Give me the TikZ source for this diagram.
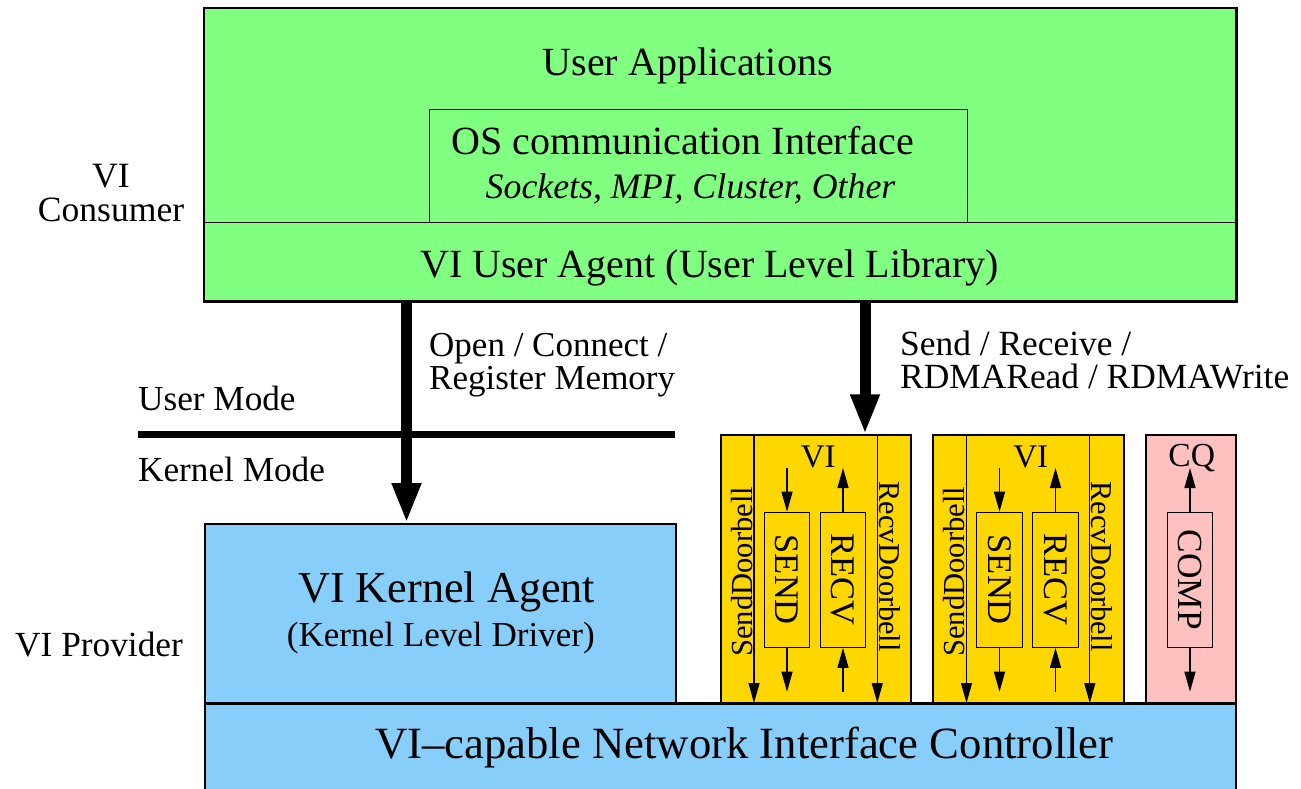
\documentclass[tikz,border=0pt]{standalone}
\usepackage{fontspec}
\setmainfont{Liberation Serif}
\usetikzlibrary{arrows.meta}

\definecolor{appgreen}{RGB}{128,255,128}
\definecolor{nicblue}{RGB}{135,206,250}
\definecolor{vigold}{RGB}{255,215,0}
\definecolor{cqpink}{RGB}{255,192,192}
\newcommand\fsz[1]{\fontsize{#1}{#1}\selectfont}
\newcommand\fszl[2]{\fontsize{#1}{#2}\selectfont}

\begin{document}
\begin{tikzpicture}[x=1pt,y=-1pt,
  lbl/.style={inner sep=0pt, anchor=base},
  lblw/.style={inner sep=0pt, anchor=base west},
  layer/.style={draw, line width=2pt, anchor=north west, inner sep=0pt},
  qbox/.style={draw, line width=1.2pt, minimum width=45.5pt, minimum height=135pt, inner sep=0pt, font=\fsz{34.5}},
  bigflow/.style={line width=11pt, -{Triangle[length=40pt,width=27pt]}},
  smallflow/.style={line width=1.2pt, -{Triangle[length=20pt,width=11pt]}},
]
\useasboundingbox (0,0) rectangle (1301,789);

% user space layers
\node[layer, line width=1.3pt, fill=appgreen, minimum width=1031pt, minimum height=214pt] (apps) at (204,8) {};
\node[layer, line width=1.3pt, fill=appgreen, minimum width=1031pt, minimum height=78pt] (agent) at (204,222) {};
\draw[line width=2.6pt] (apps.north west) rectangle (agent.south east);
\node[layer, line width=1.2pt, fill=appgreen, minimum width=538.2pt, minimum height=113pt] (osif) at (428.5,109) {};

\node[lbl, font=\fsz{40}] at (687.6,76) {User Applications};
\node[lblw, font=\fsz{40}] at (451.5,154.5) {OS communication Interface};
\node[lblw, font=\fsz{35.8}\itshape] at (485.5,198.3) {Sockets, MPI, Cluster, Other};
\node[lblw, font=\fsz{40}] at (420,277) {VI User Agent (User Level Library)};

% kernel side and the adapter
\node[layer, fill=nicblue, minimum width=471pt, minimum height=180pt] (kernel) at (204,523) {};
\node[lbl, font=\fsz{44.2}] at (446.6,602.7) {VI Kernel Agent};
\node[lbl, font=\fsz{35.1}] at (440.8,646) {(Kernel Level Driver)};

% two virtual interfaces and a completion queue
\node[layer, fill=vigold, minimum width=190.3pt, minimum height=268.7pt] (vi1) at (719.7,434.3) {};
\node[layer, fill=vigold, minimum width=191pt, minimum height=268.7pt] (vi2) at (932.3,434.3) {};
\node[layer, fill=cqpink, minimum width=90pt, minimum height=268.7pt] (cq) at (1145,434.3) {};

\node[layer, fill=nicblue, minimum width=1031pt, minimum height=100pt] (nic) at (204,703) {};
\node[lbl, font=\fsz{44.7}] at (744.3,758.3) {VI--capable Network Interface Controller};

% side labels (multi-line nodes sit on their last baseline)
\node[lbl, font={\fszl{35.6}{34.7}}, align=center] at (111,221.7) {VI\\Consumer};
\node[lblw, font=\fsz{35.3}] at (15,656) {VI Provider};
\node[lblw, font=\fsz{35.2}] at (138,410) {User Mode};
\node[lblw, font=\fsz{35.2}] at (138,481.7) {Kernel Mode};
\draw[line width=7pt] (138,434) -- (674.6,434);

% requests from the user agent
\coordinate (ocx) at (406.5,0);
\coordinate (srx) at (865,0);
\draw[bigflow] (ocx |- agent.south) -- (ocx |- kernel.north);
\draw[bigflow] (srx |- agent.south) -- (srx |- vi1.north);
\node[lblw, font={\fszl{35}{33}}, align=left] at (429,389) {Open / Connect /\\Register Memory};
\node[lblw, font={\fszl{35.4}{33.3}}, align=left] at (900,388.3) {Send / Receive /\\RDMARead / RDMAWrite};

% work queues inside each VI
\foreach \v/\dx in {1/0, 2/212.5} {
  \node[lbl, font=\fsz{33}] at (818.3+\dx,467) {VI};
  \node[qbox, fill=vigold] (send\v) at (787+\dx,579.8) {\rotatebox{-90}{SEND}};
  \node[qbox, fill=vigold] (recv\v) at (843+\dx,579.8) {\rotatebox{-90}{RECV}};
  \coordinate (sdx\v) at (754+\dx,0);
  \coordinate (rdx\v) at (877.3+\dx,0);
  \draw[smallflow] (sdx\v |- vi\v.north) -- (sdx\v |- nic.north);
  \draw[smallflow] (rdx\v |- vi\v.north) -- (rdx\v |- nic.north);
  \node[lbl, rotate=90, font=\fsz{30.6}] at (752+\dx,571.7) {SendDoorbell};
  \node[lbl, rotate=-90, font=\fsz{30.3}] at (879+\dx,566.7) {RecvDoorbell};
  \coordinate (sin\v) at (787+\dx,468);
  \coordinate (sout\v) at (787+\dx,691.7);
  \coordinate (rout\v) at (843+\dx,468);
  \coordinate (rin\v) at (843+\dx,691.7);
  \draw[smallflow] (sin\v) -- (send\v.north);
  \draw[smallflow] (send\v.south) -- (sout\v);
  \draw[smallflow] (recv\v.north) -- (rout\v);
  \draw[smallflow] (rin\v) -- (recv\v.south);
}

\node[lbl, font=\fsz{33.6}] at (1191.7,466.7) {CQ};
\node[qbox, fill=cqpink, font=\fsz{35.3}] (comp) at (1190,579.8) {\rotatebox{-90}{COMP}};
\coordinate (cqtop) at (1190,468);
\coordinate (cqbot) at (1190,691.7);
\draw[smallflow] (comp.north) -- (cqtop);
\draw[smallflow] (comp.south) -- (cqbot);

% adapter top edge over the queue boxes
\draw[line width=2pt] (nic.north west) -- (nic.north east);
\end{tikzpicture}
\end{document}
